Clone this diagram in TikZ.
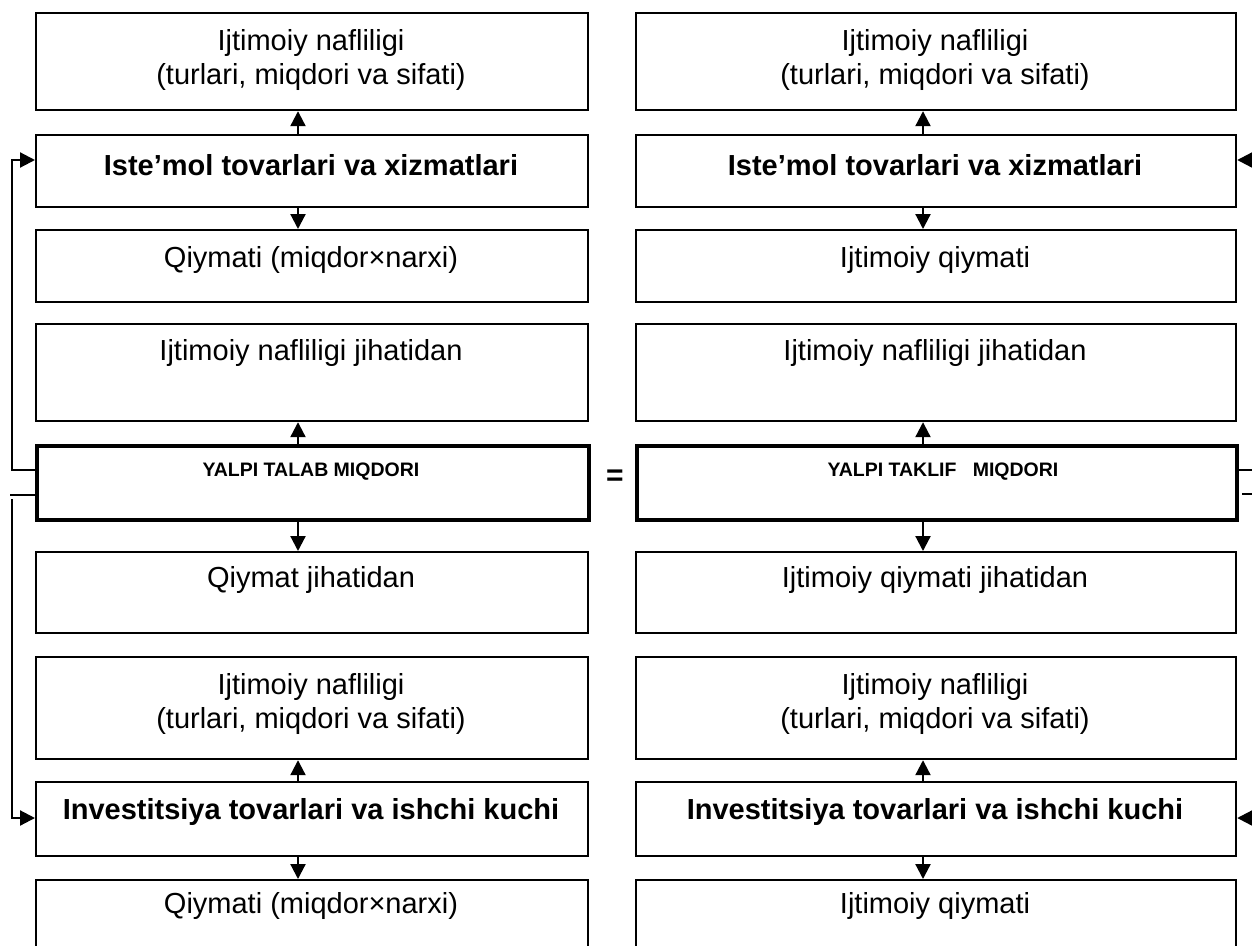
\documentclass[tikz,border=0pt]{standalone}
\usepackage{fontspec}
\setmainfont{Liberation Sans}
\usetikzlibrary{arrows.meta}
\begin{document}
\begin{tikzpicture}[x=1pt,y=-1pt,
  box/.style={draw, line width=2.2pt, rectangle, inner sep=0pt, anchor=north west},
  heavybox/.style={box, line width=4pt},
  lw/.style={minimum width=552pt},
  rw/.style={minimum width=600pt},
  lbl/.style={font=\fontsize{29}{34}\selectfont, align=center, inner sep=0pt},
  blbl/.style={inner sep=0pt, font=\fontsize{29}{34}\selectfont\bfseries},
  slbl/.style={inner sep=0pt, font=\fontsize{19.5}{23}\selectfont\bfseries},
  conn/.style={line width=2.2pt, -{Triangle[length=15pt,width=15pt]}},
  plain/.style={line width=2.2pt}]
\path[use as bounding box] (0,0) rectangle (1252,945);
\clip (0,0) rectangle (1252,945);
\fill[white] (0,0) rectangle (1252,945);

% left column
\node[box, lw, minimum height=97pt] (L1) at (35,12) {};
\node[box, lw, minimum height=72pt] (L2) at (35,134) {};
\node[box, lw, minimum height=72pt] (L3) at (35,229) {};
\node[box, lw, minimum height=97pt] (L4) at (35,323) {};
\node[heavybox, lw, minimum height=74pt] (L5) at (35,444) {};
\node[box, lw, minimum height=81pt] (L6) at (35,551) {};
\node[box, lw, minimum height=102pt] (L7) at (35,656) {};
\node[box, lw, minimum height=74pt] (L8) at (35,781) {};
\node[box, lw, minimum height=100pt] (L9) at (35,879) {};

% right column
\node[box, rw, minimum height=97pt] (R1) at (635,12) {};
\node[box, rw, minimum height=72pt] (R2) at (635,134) {};
\node[box, rw, minimum height=72pt] (R3) at (635,229) {};
\node[box, rw, minimum height=97pt] (R4) at (635,323) {};
\node[heavybox, rw, minimum height=74pt] (R5) at (635,444) {};
\node[box, rw, minimum height=81pt] (R6) at (635,551) {};
\node[box, rw, minimum height=102pt] (R7) at (635,656) {};
\node[box, rw, minimum height=74pt] (R8) at (635,781) {};
\node[box, rw, minimum height=100pt] (R9) at (635,879) {};

% texts left
\node[lbl] (tL1) at (311,60) {Ijtimoiy nafliligi\\(turlari, miqdori va sifati)};
\node[blbl] (tL2) at (311,165) {Iste’mol tovarlari va xizmatlari};
\node[lbl] (tL3) at (311,260) {Qiymati (miqdor×narxi)};
\node[lbl] (tL4) at (311,353) {Ijtimoiy nafliligi jihatidan};
\node[slbl] (tL5) at (311,472) {YALPI TALAB MIQDORI};
\node[lbl] (tL6) at (311,580) {Qiymat jihatidan};
\node[lbl] (tL7) at (311,704) {Ijtimoiy nafliligi\\(turlari, miqdori va sifati)};
\node[blbl] (tL8) at (311,812) {Investitsiya tovarlari va ishchi kuchi};
\node[lbl] (tL9) at (311,906) {Qiymati (miqdor×narxi)};

% texts right
\node[lbl] (tR1) at (935,60) {Ijtimoiy nafliligi\\(turlari, miqdori va sifati)};
\node[blbl] (tR2) at (935,165) {Iste’mol tovarlari va xizmatlari};
\node[lbl] (tR3) at (935,260) {Ijtimoiy qiymati};
\node[lbl] (tR4) at (935,353) {Ijtimoiy nafliligi jihatidan};
\node[slbl] (tR5) at (943,472) {YALPI TAKLIF\ \ \ MIQDORI};
\node[lbl] (tR6) at (935,580) {Ijtimoiy qiymati jihatidan};
\node[lbl] (tR7) at (935,704) {Ijtimoiy nafliligi\\(turlari, miqdori va sifati)};
\node[blbl] (tR8) at (935,812) {Investitsiya tovarlari va ishchi kuchi};
\node[lbl] (tR9) at (935,906) {Ijtimoiy qiymati};

% equals sign
\node[inner sep=0pt, font=\fontsize{30}{34}\selectfont\bfseries] (eq) at (615,478) {=};

% vertical arrows
\coordinate (ax) at (298,0);
\coordinate (bx) at (923,0);
\draw[conn] (L2.north -| ax) -- (L1.south -| ax);
\draw[conn] (L2.south -| ax) -- (L3.north -| ax);
\draw[conn] (L5.north -| ax) -- (L4.south -| ax);
\draw[conn] (L5.south -| ax) -- (L6.north -| ax);
\draw[conn] (L8.north -| ax) -- (L7.south -| ax);
\draw[conn] (L8.south -| ax) -- (L9.north -| ax);
\draw[conn] (R2.north -| bx) -- (R1.south -| bx);
\draw[conn] (R2.south -| bx) -- (R3.north -| bx);
\draw[conn] (R5.north -| bx) -- (R4.south -| bx);
\draw[conn] (R5.south -| bx) -- (R6.north -| bx);
\draw[conn] (R8.north -| bx) -- (R7.south -| bx);
\draw[conn] (R8.south -| bx) -- (R9.north -| bx);

% left feedback connectors
\coordinate (lc1) at (12,160);
\coordinate (lc2) at (10,495);
\coordinate (lc3) at (12,499);
\coordinate (lc4) at (12,818);
\draw[conn] (L5.west |- 0,470) -| (lc1) -- (L2.west |- lc1);
\draw[plain] (L5.west |- lc2) -- (lc2);
\draw[conn] (lc3) -- (lc4) -- (L8.west |- lc4);

% right connectors (leaving the frame)
\coordinate (ro1) at (1270,470);
\coordinate (ro2) at (1270,494);
\coordinate (ri2) at (1270,160);
\coordinate (ri8) at (1270,818);
\draw[plain] (R5.east |- ro1) -- (ro1);
\draw[plain] ([xshift=3pt]R5.east |- ro2) -- (ro2);
\draw[conn] (ri2) -- (R2.east |- ri2);
\draw[conn] (ri8) -- (R8.east |- ri8);
\end{tikzpicture}
\end{document}
